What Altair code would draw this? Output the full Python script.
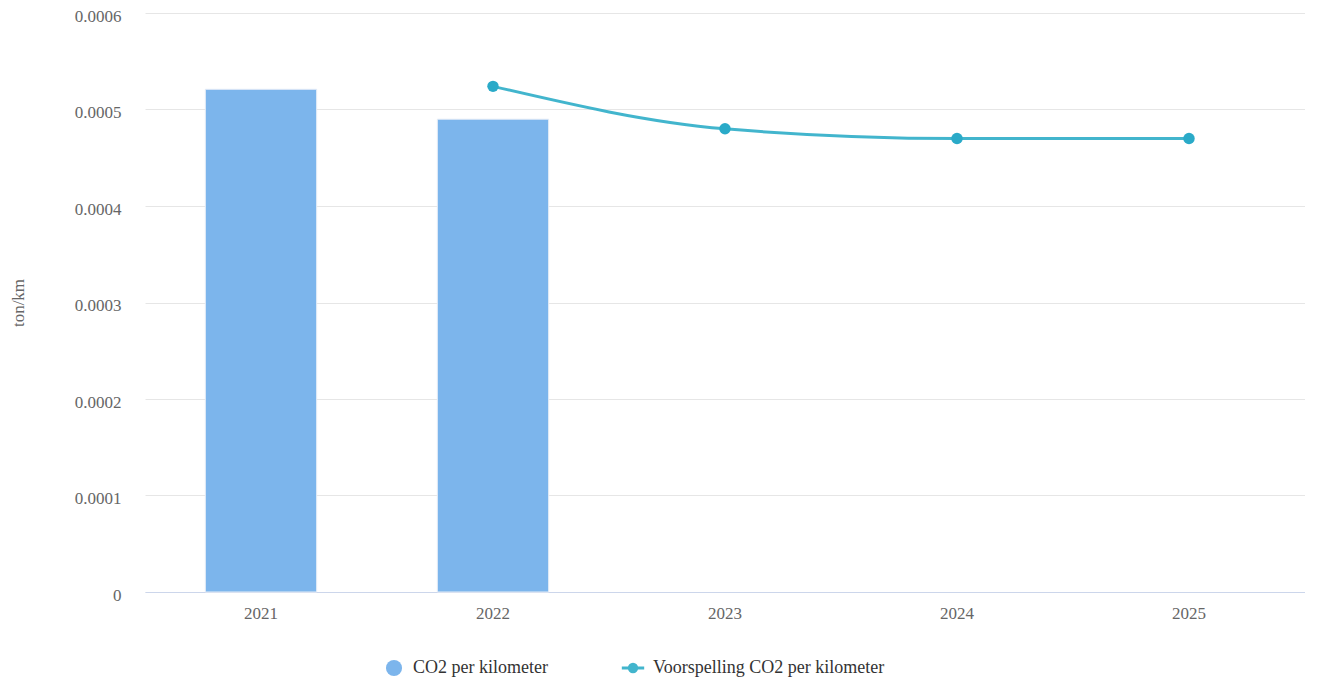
import altair as alt
import pandas as pd

years = ["2021", "2022", "2023", "2024", "2025"]
bar_years = ["2021", "2022"]
bar_values = [0.000521, 0.000490]
forecast_years = ["2022", "2023", "2024", "2025"]
forecast_values = [0.000524, 0.000480, 0.000470, 0.000470]

bar_name = "CO2 per kilometer"
line_name = "Voorspelling CO2 per kilometer"

bars_df = pd.DataFrame({"jaar": bar_years, "waarde": bar_values, "reeks": bar_name})
line_df = pd.DataFrame({"jaar": forecast_years, "waarde": forecast_values, "reeks": line_name})

FONT = "Liberation Serif"

x_enc = alt.X(
    "jaar:N",
    sort=years,
    scale=alt.Scale(domain=years, paddingInner=0.52, paddingOuter=0.26),
    axis=alt.Axis(
        title=None, labelAngle=0, ticks=False, labelPadding=13,
        domainColor="#ccd6eb", labelColor="#666666", labelFontSize=17, labelFont=FONT,
        grid=False,
    ),
)
y_enc = alt.Y(
    "waarde:Q",
    scale=alt.Scale(domain=[0, 0.0006], nice=False),
    axis=alt.Axis(
        title="ton/km", values=[0, 0.0001, 0.0002, 0.0003, 0.0004, 0.0005, 0.0006],
        format=".4~f", ticks=False, domain=False, labelPadding=24, labelOffset=3,
        gridColor="#e6e6e6", labelColor="#666666", labelFontSize=17, labelFont=FONT,
        titleColor="#666666", titleFontSize=17, titleFont=FONT, titleFontWeight="normal",
        titleX=-127, titleBaseline="middle",
    ),
)

bars = alt.Chart(bars_df).mark_bar(stroke="#e9eef7", strokeWidth=1).encode(
    x=x_enc,
    y=y_enc,
    fill=alt.Fill(
        "reeks:N",
        scale=alt.Scale(domain=[bar_name], range=["#7cb5ec"]),
        legend=alt.Legend(
            title=None, orient="none", legendX=240, legendY=646,
            symbolType="circle", symbolSize=260, symbolStrokeWidth=0,
            labelFont=FONT, labelFontSize=18, labelColor="#333333", labelLimit=400,
            labelOffset=10,
        ),
    ),
)

line = alt.Chart(line_df).mark_line(interpolate="monotone", strokeWidth=3, opacity=0.9).encode(
    x=alt.X("jaar:N", sort=years),
    y="waarde:Q",
    stroke=alt.Stroke(
        "reeks:N",
        scale=alt.Scale(domain=[line_name], range=["#2eadc8"]),
        legend=alt.Legend(
            title=None, orient="none", legendX=475, legendY=642,
            symbolType="M-1,0H1M0.33,0A0.33,0.33 0 1,1 -0.33,0A0.33,0.33 0 1,1 0.33,0",
            symbolFillColor="#2eadc8", symbolStrokeWidth=3, symbolSize=500,
            labelFont=FONT, labelFontSize=18, labelColor="#333333", labelLimit=400,
            labelOffset=7,
        ),
    ),
)

points = alt.Chart(line_df).mark_point(filled=True, size=130, opacity=1, color="#2aaac8").encode(
    x=alt.X("jaar:N", sort=years),
    y="waarde:Q",
)

chart = alt.layer(bars, line, points).properties(
    width=1160,
    height=579,
    padding={"left": 137, "top": 5, "right": 0, "bottom": 86},
    autosize=alt.AutoSizeParams(type="none"),
).configure_view(stroke=None)

chart.save("out.html", embed_options={"renderer": "svg", "actions": False})
